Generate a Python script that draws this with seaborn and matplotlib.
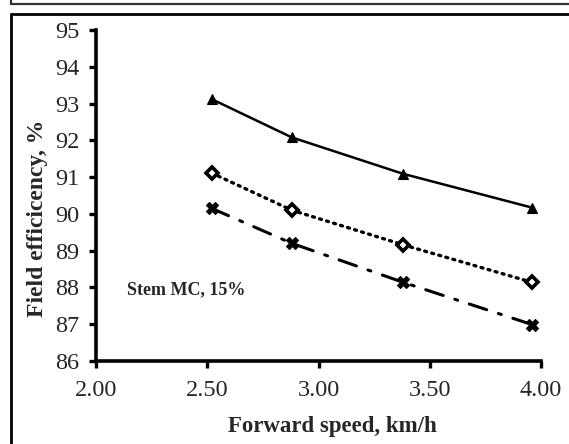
import matplotlib
matplotlib.use("Agg")
import matplotlib.pyplot as plt
from matplotlib.lines import Line2D
import seaborn as sns
import pandas as pd

speed = [2.52, 2.88, 3.38, 3.96]
eff_triangle = [93.12, 92.08, 91.09, 90.17]
eff_diamond = [91.11, 90.10, 89.16, 88.14]
eff_cross = [90.15, 89.20, 88.14, 86.99]
xticks = [2.00, 2.50, 3.00, 3.50, 4.00]
yticks = [86, 87, 88, 89, 90, 91, 92, 93, 94, 95]

sns.set_style("ticks")
plt.rcParams["font.family"] = ["Liberation Serif", "DejaVu Serif"]

fig = plt.figure(figsize=(5.69, 4.44), dpi=100)
ax = fig.add_axes([96 / 569, 1 - 361 / 444, (541 - 96) / 569, (361 - 30) / 444])

series = [
    ("tri", eff_triangle, "^", "-", 1.8),
    ("dia", eff_diamond, "D", (0, (0.6, 1.6)), 2.4),
    ("cross", eff_cross, "X", (0, (6, 4, 1, 4)), 2.2),
]
for name, vals, mk, ls, lw in series:
    df = pd.DataFrame({"speed": speed, "eff": vals})
    sns.lineplot(data=df, x="speed", y="eff", ax=ax, color="black",
                 linestyle=ls, linewidth=lw, marker=mk,
                 markersize={"^": 7.5, "D": 6.5, "X": 8}[mk],
                 markerfacecolor="white" if mk == "D" else "black",
                 markeredgecolor="black", markeredgewidth=2.6 if mk == "D" else 0.8,
                 dash_capstyle="round")

ax.set_xlim(2.0, 4.0)
ax.set_ylim(86, 95)
ax.set_xticks(xticks)
ax.set_xticklabels([f"{v:.2f}" for v in xticks])
ax.set_yticks(yticks)
ax.set_yticklabels([str(v) for v in yticks])
for s in ["top", "right"]:
    ax.spines[s].set_visible(False)
for s in ["left", "bottom"]:
    ax.spines[s].set_linewidth(2.6)
    ax.spines[s].set_color("black")
ax.tick_params(axis="both", direction="out", length=5, width=2.4,
               labelsize=17.5, color="black")
ax.tick_params(axis="y", pad=7)
ax.tick_params(axis="x", pad=9)
ax.set_xlabel("Forward speed, km/h", fontsize=16.5, fontweight="bold")
ax.set_ylabel("Field efficicency, %", fontsize=17, fontweight="bold")
ax.xaxis.set_label_coords((332 - 96) / (541 - 96), -(416 - 361) / (361 - 30))
ax.yaxis.set_label_coords(-(96 - 48) / (541 - 96), (361 - 218) / (361 - 30))

ax.text(2.14, 87.93, "Stem MC, 15%", fontsize=13, fontweight="bold",
        ha="left", va="center")

# figure borders
H = 444.0
W = 569.0
def fl(x0, y0, x1, y1, lw=1.6, color="black"):
    fig.add_artist(Line2D([x0 / W, x1 / W], [1 - y0 / H, 1 - y1 / H],
                          transform=fig.transFigure, color=color, linewidth=lw))

fl(11, 14, 569, 14, lw=2.0)
fl(11, 14, 11, 444, lw=2.0)
fl(11, 4.5, 569, 4.5, lw=1.6, color="#333333")
fl(11, 0, 11, 4.5, lw=1.6, color="#333333")

fig.savefig("out.png", dpi=100)
